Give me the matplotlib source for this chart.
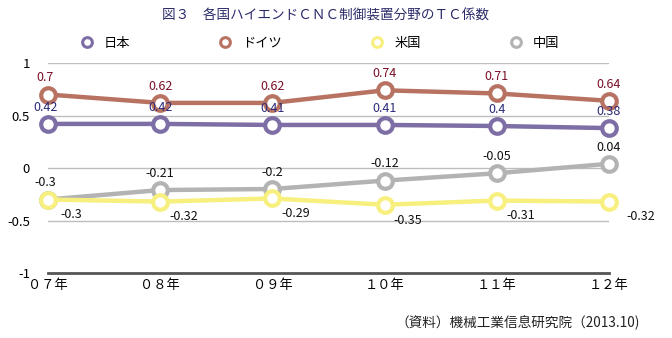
import matplotlib.pyplot as plt

plt.rcParams['font.family'] = ['Noto Sans CJK JP', 'DejaVu Sans']

# 年次とTC係数
years = ["０７年", "０８年", "０９年", "１０年", "１１年", "１２年"]
japan = [0.42, 0.42, 0.41, 0.41, 0.40, 0.38]
germany = [0.70, 0.62, 0.62, 0.74, 0.71, 0.64]
usa = [-0.30, -0.32, -0.29, -0.35, -0.31, -0.32]
china = [-0.30, -0.21, -0.20, -0.12, -0.05, 0.04]

fig = plt.figure(figsize=(6.72, 3.38), dpi=100)
ax = fig.add_axes([0.0714, 0.1923, 0.8348, 0.6213])

x = list(range(len(years)))

series = [
    ("日本", japan, "#7e6ea6", "#2b2b7a"),
    ("ドイツ", germany, "#b87262", "#7a1028"),
    ("米国", usa, "#f7ef7e", "#111111"),
    ("中国", china, "#b3b3b3", "#111111"),
]

# 描画順: 中国・米国を下に
for name, vals, col, _ in [series[3], series[2], series[0], series[1]]:
    ax.plot(x, vals, color=col, lw=3.2, marker="o", ms=10.5, mfc="white",
            mec=col, mew=3, clip_on=False, zorder=3, label=name)

# データラベル
for name, vals, col, tcol in series:
    for i, v in enumerate(vals):
        if name == "米国":
            dx = 23 if i == len(vals) - 1 else 17
            ax.annotate(f"{v:g}", (i, v), xytext=(dx, -11), textcoords="offset points",
                        ha="center", va="center", fontsize=9, color=tcol, zorder=5)
        else:
            ax.annotate(f"{v:g}", (i, v), xytext=(-2 if i == 0 else 0, 12),
                        textcoords="offset points", ha="center", va="center",
                        fontsize=9, color=tcol, zorder=5)

ax.set_xlim(0, 5)
ax.set_ylim(-1, 1)
ax.set_yticks([-1, -0.5, 0, 0.5, 1])
ax.set_yticklabels(["-1", "-0.5", "0", "0.5", "1"], fontsize=9.5)
ax.set_xticks(x)
ax.set_xticklabels(years, fontsize=9.5)
ax.tick_params(axis="y", length=0, pad=13)
ax.tick_params(axis="x", length=0, pad=4)

for y in [-0.5, 0, 0.5, 1]:
    ax.axhline(y, color="#bdbdbd", lw=1, zorder=1)
for s in ["left", "right", "top"]:
    ax.spines[s].set_visible(False)
ax.spines["bottom"].set_color("#555555")
ax.spines["bottom"].set_linewidth(2)

# 凡例
handles, labels = ax.get_legend_handles_labels()
order = [labels.index(n) for n in ["日本", "ドイツ", "米国", "中国"]]
leg = fig.legend([handles[i] for i in order], [labels[i] for i in order],
                 loc="center", bbox_to_anchor=(0.475, 0.872), ncol=4, frameon=False,
                 fontsize=9.5, handlelength=1.2, columnspacing=6.6, handletextpad=0.7)
for h in leg.legend_handles:
    h.set_linestyle("none")
    h.set_markersize(7)
    h.set_markeredgewidth(2.2)

fig.text(0.484, 0.955, "図３　各国ハイエンドＣＮＣ制御装置分野のＴＣ係数",
         ha="center", va="center", fontsize=9.8, color="#2b2b6a")
fig.text(0.952, 0.045, "（資料）機械工業信息研究院（2013.10)",
         ha="right", va="center", fontsize=9.8, color="#222222")

fig.savefig("out.png", dpi=100)
